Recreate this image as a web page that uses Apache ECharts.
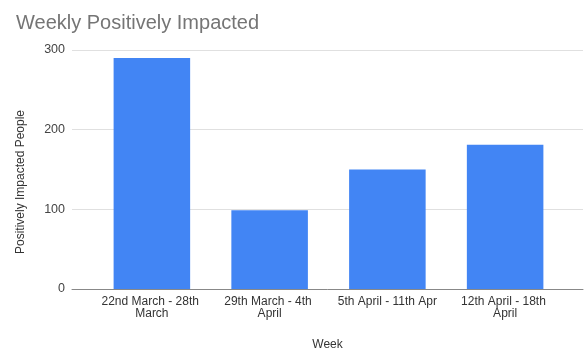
<!DOCTYPE html>
<html>
<head>
<meta charset="utf-8">
<script src="https://cdn.jsdelivr.net/npm/echarts@6/dist/echarts.min.js"></script>
<style>
html,body{margin:0;padding:0;background:#fff;}
#c{width:587px;height:349px;}
</style>
</head>
<body>
<div id="c"></div>
<script>
var categories = ["22nd March - 28th March", "29th March - 4th April", "5th April - 11th Apr", "12th April - 18th April"];
var values = [290, 99, 150, 181];
var yTicks = [0, 100, 200, 300];
var titleText = "Weekly Positively Impacted";
var xTitle = "Week";
var yTitle = "Positively Impacted People";

var FONT = "Arial, 'Liberation Sans', sans-serif";
var chart = echarts.init(document.getElementById('c'), null, {renderer: 'canvas'});
var yMin = yTicks[0], yMax = yTicks[yTicks.length - 1], yStep = yTicks[1] - yTicks[0];
chart.setOption({
  animation: false,
  backgroundColor: '#fff',
  title: {
    text: titleText, left: 11, top: 8,
    textStyle: {fontFamily: FONT, fontSize: 20, fontWeight: 'normal', color: '#757575'}
  },
  graphic: [{
    type: 'text', x: 21, y: 182, rotation: Math.PI / 2,
    style: {text: yTitle, fill: '#333', font: '12px ' + FONT, textAlign: 'center', textVerticalAlign: 'middle'}
  }],
  grid: [
    {left: 72, right: 4, top: 50, bottom: 60, outerBoundsMode: 'none', containLabel: false},
    {left: 93, right: 23, top: 50, bottom: 60, outerBoundsMode: 'none', containLabel: false}
  ],
  xAxis: [
    {type: 'category', gridIndex: 0, data: [''],
     axisLine: {show: true, lineStyle: {color: '#888', width: 1}},
     axisTick: {show: false}, axisLabel: {show: false},
     name: xTitle, nameLocation: 'middle', nameGap: 50,
     nameTextStyle: {fontFamily: FONT, fontSize: 12, color: '#333'}},
    {type: 'category', gridIndex: 1, data: categories,
     axisLine: {show: false}, axisTick: {show: false},
     axisLabel: {fontFamily: FONT, fontSize: 12, color: '#333', margin: 7, lineHeight: 12,
                 width: 104, overflow: 'break', interval: 0}}
  ],
  yAxis: [
    {type: 'value', gridIndex: 0, min: yMin, max: yMax, interval: yStep,
     axisLine: {show: false}, axisTick: {show: false},
     axisLabel: {fontFamily: FONT, fontSize: 12.5, color: '#444', margin: 7},
     splitLine: {lineStyle: {color: '#e0e0e0', width: 1}}},
    {type: 'value', gridIndex: 1, min: yMin, max: yMax, interval: yStep,
     axisLine: {show: false}, axisTick: {show: false}, axisLabel: {show: false},
     splitLine: {show: false}}
  ],
  series: [{
    type: 'bar', xAxisIndex: 1, yAxisIndex: 1, data: values,
    barCategoryGap: '35%',
    itemStyle: {color: '#4285F4'}
  }]
});
</script>
</body>
</html>
